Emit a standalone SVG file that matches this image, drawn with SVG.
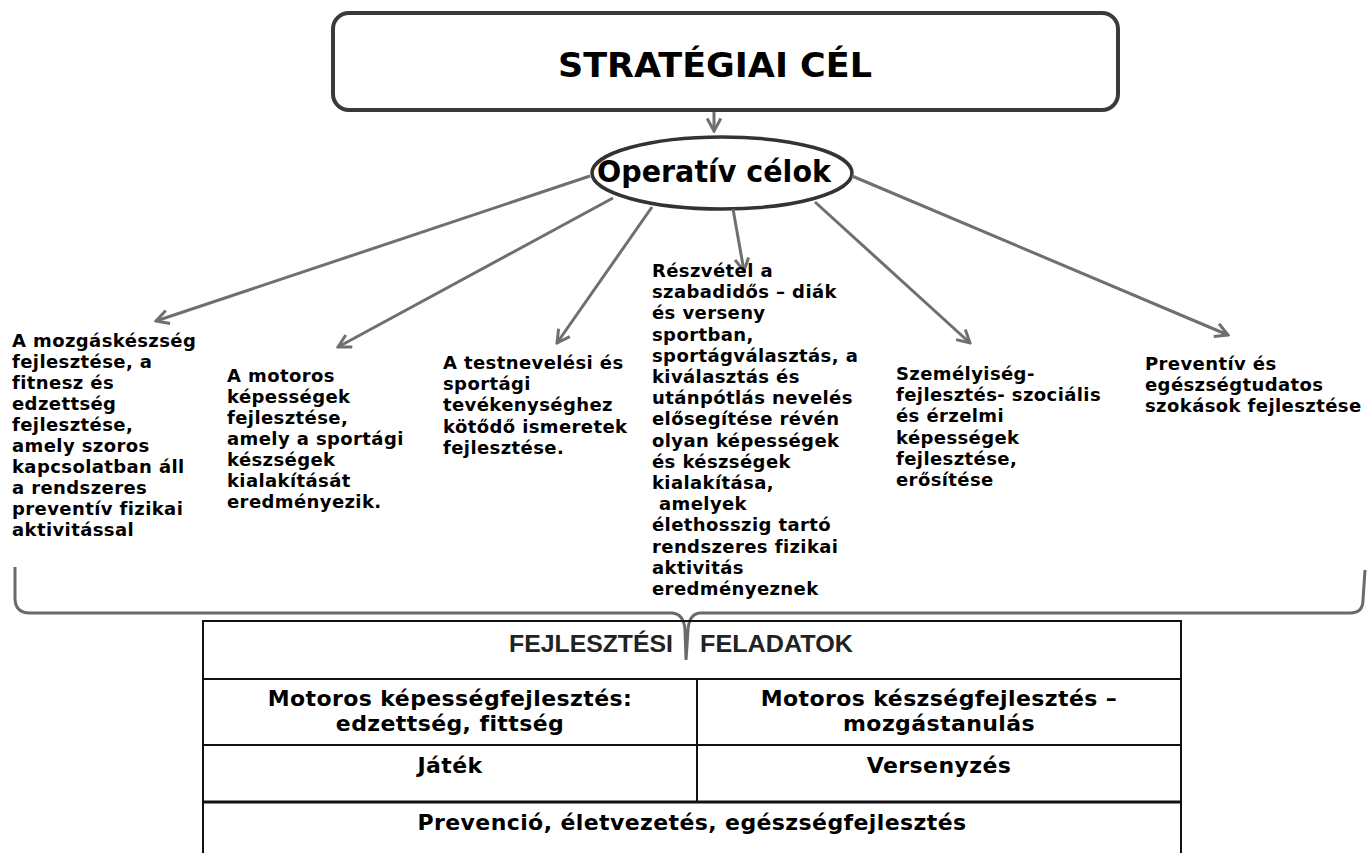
<svg xmlns="http://www.w3.org/2000/svg" width="1367" height="853" viewBox="0 0 1367 853">
  <style>
    .goal { font-family: "DejaVu Sans", Verdana, sans-serif; font-weight: bold; font-size: 18px; letter-spacing: 0.4px; fill: #000; }
    .cell { font-family: "DejaVu Sans", Verdana, sans-serif; font-weight: bold; font-size: 22px; letter-spacing: 0.4px; fill: #000; text-anchor: middle; }
    .head { font-family: "Liberation Sans", Arial, sans-serif; font-weight: bold; font-size: 23px; fill: #222; }
    .conn { stroke: #6f6f6f; stroke-width: 3; fill: none; marker-end: url(#chev); }
    .grid { stroke: #111; stroke-width: 2; fill: none; }
  </style>
  <defs>
    <marker id="chev" viewBox="0 0 14 14" refX="12.5" refY="7" markerWidth="16" markerHeight="16" markerUnits="userSpaceOnUse" orient="auto">
      <path d="M1.5,1 L12.5,7 L1.5,13" fill="none" stroke="#6f6f6f" stroke-width="2.6" stroke-linejoin="miter"/>
    </marker>
  </defs>
  <rect width="1367" height="853" fill="#fff"/>

  <g id="strategic">
    <rect x="333" y="13" width="785" height="97" rx="16" ry="16" fill="#fff" stroke="#3a3a3a" stroke-width="4"/>
    <text x="558" y="77" font-family="DejaVu Sans, Verdana, sans-serif" font-weight="bold" font-size="33" textLength="314" lengthAdjust="spacingAndGlyphs">STRATÉGIAI CÉL</text>
  </g>

  <g id="operative">
    <ellipse cx="722" cy="173" rx="130" ry="36" fill="#fff" stroke="#333" stroke-width="3.5"/>
    <text x="597" y="182" font-family="DejaVu Sans, Verdana, sans-serif" font-weight="bold" font-size="30" textLength="234" lengthAdjust="spacingAndGlyphs">Operatív célok</text>
  </g>

  <g id="connectors">
    <line class="conn" x1="714" y1="112" x2="714" y2="131"/>
    <line class="conn" x1="590" y1="176" x2="156" y2="321"/>
    <line class="conn" x1="613" y1="198" x2="338" y2="347"/>
    <line class="conn" x1="652" y1="207" x2="557" y2="343"/>
    <line class="conn" x1="733" y1="209" x2="744" y2="271"/>
    <line class="conn" x1="815" y1="202" x2="970" y2="343"/>
    <line class="conn" x1="852" y1="176" x2="1228" y2="335"/>
    <path id="brace" d="M15,567 L15,598 Q15,613 30,613 L672,613 Q684,614 685,630 L686,660 L688,630 Q689,614 700,613 L1350,613 Q1363,613 1363,600 L1365,570" fill="none" stroke="#6a6a6a" stroke-width="3"/>
  </g>

  <g id="goal1">
    <text class="goal" x="12" y="347">
      <tspan x="12">A mozgáskészség</tspan>
      <tspan x="12" dy="21">fejlesztése, a</tspan>
      <tspan x="12" dy="21">fitnesz és</tspan>
      <tspan x="12" dy="21">edzettség</tspan>
      <tspan x="12" dy="21">fejlesztése,</tspan>
      <tspan x="12" dy="21">amely szoros</tspan>
      <tspan x="12" dy="21">kapcsolatban áll</tspan>
      <tspan x="12" dy="21">a rendszeres</tspan>
      <tspan x="12" dy="21">preventív fizikai</tspan>
      <tspan x="12" dy="21">aktivitással</tspan>
    </text>
  </g>

  <g id="goal2">
    <text class="goal" x="227" y="382">
      <tspan x="227">A motoros</tspan>
      <tspan x="227" dy="21">képességek</tspan>
      <tspan x="227" dy="21">fejlesztése,</tspan>
      <tspan x="227" dy="21">amely a sportági</tspan>
      <tspan x="227" dy="21">készségek</tspan>
      <tspan x="227" dy="21">kialakítását</tspan>
      <tspan x="227" dy="21">eredményezik.</tspan>
    </text>
  </g>

  <g id="goal3">
    <text class="goal" x="443" y="369">
      <tspan x="443">A testnevelési és</tspan>
      <tspan x="443" dy="21.2">sportági</tspan>
      <tspan x="443" dy="21.2">tevékenységhez</tspan>
      <tspan x="443" dy="21.2">kötődő ismeretek</tspan>
      <tspan x="443" dy="21.2">fejlesztése.</tspan>
    </text>
  </g>

  <g id="goal4">
    <text class="goal" x="652" y="277">
      <tspan x="652">Részvétel a</tspan>
      <tspan x="652" dy="21.2">szabadidős – diák</tspan>
      <tspan x="652" dy="21.2">és verseny</tspan>
      <tspan x="652" dy="21.2">sportban,</tspan>
      <tspan x="652" dy="21.2">sportágválasztás, a</tspan>
      <tspan x="652" dy="21.2">kiválasztás és</tspan>
      <tspan x="652" dy="21.2">utánpótlás nevelés</tspan>
      <tspan x="652" dy="21.2">elősegítése révén</tspan>
      <tspan x="652" dy="21.2">olyan képességek</tspan>
      <tspan x="652" dy="21.2">és készségek</tspan>
      <tspan x="652" dy="21.2">kialakítása,</tspan>
      <tspan x="659" dy="21.2">amelyek</tspan>
      <tspan x="652" dy="21.2">élethosszig tartó</tspan>
      <tspan x="652" dy="21.2">rendszeres fizikai</tspan>
      <tspan x="652" dy="21.2">aktivitás</tspan>
      <tspan x="652" dy="21.2">eredményeznek</tspan>
    </text>
  </g>

  <g id="goal5">
    <text class="goal" x="896" y="380">
      <tspan x="896">Személyiség-</tspan>
      <tspan x="896" dy="21.2">fejlesztés- szociális</tspan>
      <tspan x="896" dy="21.2">és érzelmi</tspan>
      <tspan x="896" dy="21.2">képességek</tspan>
      <tspan x="896" dy="21.2">fejlesztése,</tspan>
      <tspan x="896" dy="21.2">erősítése</tspan>
    </text>
  </g>

  <g id="goal6">
    <text class="goal" x="1145" y="370">
      <tspan x="1145">Preventív és</tspan>
      <tspan x="1145" dy="21">egészségtudatos</tspan>
      <tspan x="1145" dy="21">szokások fejlesztése</tspan>
    </text>
  </g>

  <g id="tasks">
    <rect class="grid" x="203" y="621" width="978" height="250"/>
    <line class="grid" x1="203" y1="679" x2="1181" y2="679"/>
    <line class="grid" x1="203" y1="745" x2="1181" y2="745"/>
    <line x1="203" y1="802" x2="1181" y2="802" stroke="#111" stroke-width="3"/>
    <line class="grid" x1="697" y1="679" x2="697" y2="802"/>
    <text class="head" x="509" y="652" textLength="164" lengthAdjust="spacingAndGlyphs">FEJLESZTÉSI</text>
    <text class="head" x="700" y="652" textLength="153" lengthAdjust="spacingAndGlyphs">FELADATOK</text>
    <text class="cell" x="450" y="706">Motoros képességfejlesztés:</text>
    <text class="cell" x="450" y="731">edzettség, fittség</text>
    <text class="cell" x="939" y="706">Motoros készségfejlesztés –</text>
    <text class="cell" x="939" y="731">mozgástanulás</text>
    <text class="cell" x="450" y="773">Játék</text>
    <text class="cell" x="939" y="773">Versenyzés</text>
    <text class="cell" x="692" y="830">Prevenció, életvezetés, egészségfejlesztés</text>
  </g>
</svg>
